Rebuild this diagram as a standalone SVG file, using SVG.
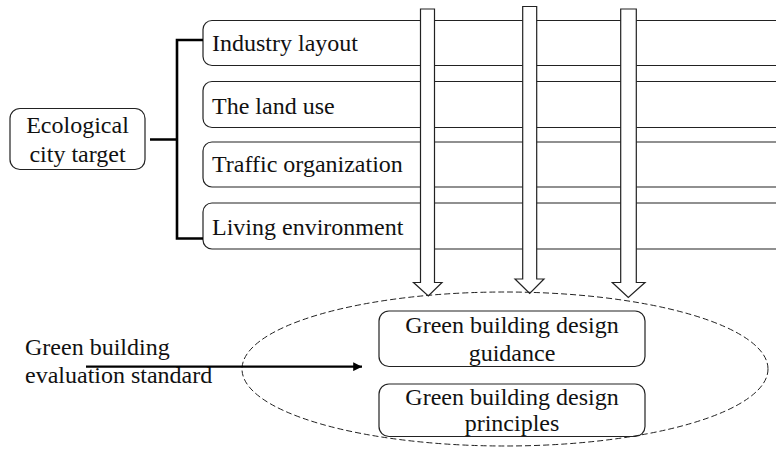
<svg xmlns="http://www.w3.org/2000/svg" width="776" height="450" viewBox="0 0 776 450">
  <style>
    .box { fill: #fff; stroke: #222; stroke-width: 1.2; }
    .lbl { font-family: "Liberation Serif", "Times New Roman", serif; font-size: 24px; fill: #111; }
    .mid { text-anchor: middle; }
    .bracket { fill: none; stroke: #000; stroke-width: 2.6; }
    .down { fill: #fff; stroke: #222; stroke-width: 1.2; stroke-linejoin: miter; }
  </style>
  <defs>
    <marker id="head" viewBox="0 0 10 10" refX="10" refY="5" markerWidth="4" markerHeight="4" orient="auto" markerUnits="strokeWidth">
      <path d="M0,0 L10,5 L0,10 z" fill="#000"/>
    </marker>
  </defs>
  <rect width="776" height="450" fill="#fff"/>

  <!-- target node -->
  <g id="node-eco">
    <rect class="box" x="10" y="108.5" width="135" height="61" rx="10"/>
    <text class="lbl mid" x="77.5" y="133">Ecological</text>
    <text class="lbl mid" x="77.5" y="162">city target</text>
  </g>

  <!-- aspect rows (extend past the right edge) -->
  <g id="node-industry">
    <rect class="box" x="203" y="20.5" width="600" height="45" rx="9"/>
    <text class="lbl" x="212" y="51">Industry layout</text>
  </g>
  <g id="node-land">
    <rect class="box" x="203" y="81.5" width="600" height="46" rx="9"/>
    <text class="lbl" x="212" y="114">The land use</text>
  </g>
  <g id="node-traffic">
    <rect class="box" x="203" y="142" width="600" height="45" rx="9"/>
    <text class="lbl" x="212" y="172">Traffic organization</text>
  </g>
  <g id="node-living">
    <rect class="box" x="203" y="203" width="600" height="46" rx="9"/>
    <text class="lbl" x="212" y="235">Living environment</text>
  </g>

  <!-- design outcome nodes -->
  <g id="node-guidance">
    <rect class="box" x="379" y="311" width="266" height="55.5" rx="10"/>
    <text class="lbl mid" x="512" y="333">Green building design</text>
    <text class="lbl mid" x="512" y="361">guidance</text>
  </g>
  <g id="node-principles">
    <rect class="box" x="379" y="384" width="266" height="52.5" rx="10"/>
    <text class="lbl mid" x="512" y="405">Green building design</text>
    <text class="lbl mid" x="512" y="431">principles</text>
  </g>

  <g id="node-standard">
    <text class="lbl" x="25" y="355">Green building</text>
    <text class="lbl" x="25" y="383">evaluation standard</text>
  </g>

  <g id="connectors">
    <!-- bracket joining the target to its four aspects -->
    <path class="bracket" d="M150,139.5 H177 M203,40 H177 V238.5 H203"/>

    <!-- hollow downward arrows -->
    <path class="down" d="M420.5,9 H434.5 V282.5 H442 L428.3,296 L413.5,282.5 H420.5 Z"/>
    <path class="down" d="M522.7,6.5 H536.7 V279 H544 L529.7,293.5 L515,279 H522.7 Z"/>
    <path class="down" d="M620.7,9 H636.3 V282.5 H645 L628.3,297.5 L612.3,282.5 H620.7 Z"/>

    <!-- dashed boundary around the design outcomes -->
    <ellipse cx="505" cy="369" rx="263" ry="77" fill="none" stroke="#222" stroke-width="1" stroke-dasharray="6,3"/>

    <!-- standard feeding into the guidance -->
    <line x1="86" y1="366.7" x2="362" y2="366.7" stroke="#000" stroke-width="2.2" marker-end="url(#head)"/>
  </g>
</svg>
